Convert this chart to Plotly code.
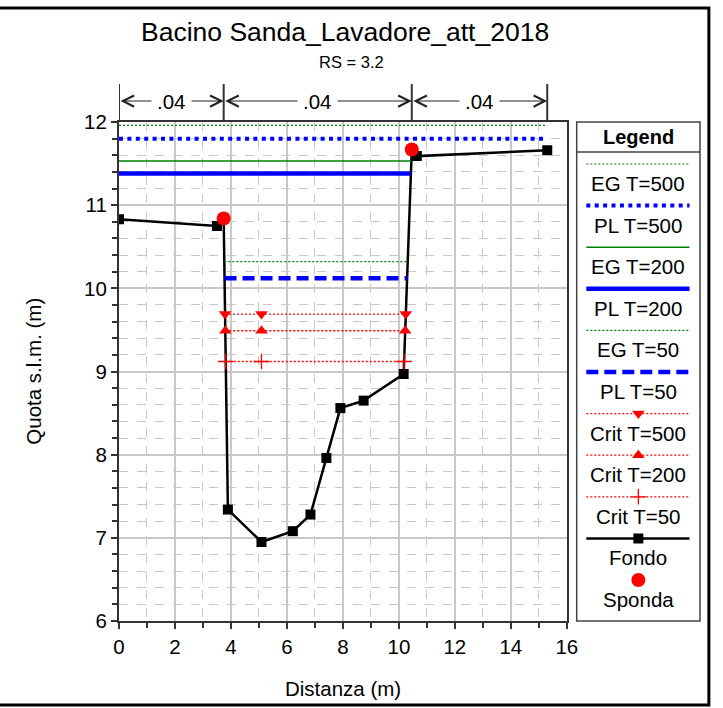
import numpy as np
import plotly.graph_objects as go

# ---- Cross-section ground profile (station, elevation) ----
fondo_x = [0.0, 3.50, 3.74, 3.89, 5.09, 6.21, 6.84, 7.41, 7.91, 8.74, 10.17, 10.46, 10.64, 15.30]
fondo_y = [10.83, 10.75, 10.84, 7.34, 6.95, 7.08, 7.28, 7.96, 8.56, 8.65, 8.97, 11.67, 11.59, 11.66]

# bank stations
sponda_x = [3.74, 10.46]
sponda_y = [10.84, 11.67]

# Manning n regions
n_bounds = [0.0, 3.74, 10.46, 15.30]
n_labels = [".04", ".04", ".04"]

# water levels per return period
eg_levels = {"T=500": 11.96, "T=200": 11.53, "T=50": 10.32}
pl_levels = {"T=500": 11.80, "T=200": 11.38, "T=50": 10.12}
crit_levels = {"T=500": 9.69, "T=200": 9.49, "T=50": 9.12}

FONT = "Liberation Sans, Arial, sans-serif"
GREEN = "rgb(0,128,0)"
BLUE = "rgb(0,0,255)"
RED = "rgb(255,0,0)"

gx = np.array(fondo_x)
gy = np.array(fondo_y)
i_min = int(np.argmin(gy))


def wet_extent(level):
    """Left/right stations where a water level meets the ground around the thalweg."""
    xl = gx[0]
    for i in range(i_min - 1, -1, -1):
        if gy[i] >= level:
            xl = gx[i] + (gx[i + 1] - gx[i]) * (gy[i] - level) / (gy[i] - gy[i + 1])
            break
    xr = gx[-1]
    for i in range(i_min + 1, len(gx)):
        if gy[i] >= level:
            xr = gx[i - 1] + (gx[i] - gx[i - 1]) * (level - gy[i - 1]) / (gy[i] - gy[i - 1])
            break
    return xl, xr


fig = go.Figure()

# ground
fig.add_trace(go.Scatter(x=fondo_x, y=fondo_y, mode="lines+markers",
                         line=dict(color="black", width=2.5),
                         marker=dict(symbol="square", size=10, color="black"),
                         showlegend=False, hoverinfo="skip"))

styles = {
    "EG T=500": dict(color=GREEN, width=1.2, dash="2px,2px"),
    "PL T=500": dict(color=BLUE, width=4, dash="4px,4.4px"),
    "EG T=200": dict(color=GREEN, width=1.5),
    "PL T=200": dict(color=BLUE, width=4.5),
    "EG T=50": dict(color=GREEN, width=1.2, dash="2px,2px"),
    "PL T=50": dict(color=BLUE, width=4.5, dash="12px,6px"),
}
crit_line = dict(color=RED, width=1.3, dash="2px,2px")

for key, lev in [("EG T=500", eg_levels["T=500"]), ("PL T=500", pl_levels["T=500"]),
                 ("EG T=200", eg_levels["T=200"]), ("PL T=200", pl_levels["T=200"]),
                 ("EG T=50", eg_levels["T=50"]), ("PL T=50", pl_levels["T=50"])]:
    xl, xr = wet_extent(lev)
    fig.add_trace(go.Scatter(x=[xl, xr], y=[lev, lev], mode="lines",
                             line=styles[key], showlegend=False, hoverinfo="skip"))

crit_marker = {"T=500": "triangle-down", "T=200": "triangle-up", "T=50": "cross-thin"}


def crit_marker_style(sym):
    return dict(symbol=sym, size=11, color=RED,
                line=dict(color=RED, width=1.3 if sym == "cross-thin" else 0))


for key, lev in crit_levels.items():
    xl, xr = wet_extent(lev)
    fig.add_trace(go.Scatter(
        x=[xl, gx[i_min], xr], y=[lev, lev, lev], mode="lines+markers",
        line=crit_line, marker=crit_marker_style(crit_marker[key]),
        showlegend=False, hoverinfo="skip"))

fig.add_trace(go.Scatter(x=sponda_x, y=sponda_y, mode="markers",
                         marker=dict(symbol="circle", size=14, color=RED),
                         showlegend=False, hoverinfo="skip"))

# ---- legend panel drawn on its own axes ----
legend_items = [
    ("EG T=500", styles["EG T=500"], None),
    ("PL T=500", styles["PL T=500"], None),
    ("EG T=200", styles["EG T=200"], None),
    ("PL T=200", styles["PL T=200"], None),
    ("EG T=50", styles["EG T=50"], None),
    ("PL T=50", styles["PL T=50"], None),
    ("Crit T=500", crit_line, "triangle-down"),
    ("Crit T=200", crit_line, "triangle-up"),
    ("Crit T=50", crit_line, "cross-thin"),
    ("Fondo", dict(color="black", width=2.5), "square"),
    ("Sponda", None, "circle"),
]
row0, row_step = 42.0, 41.6
annotations = []
for k, (name, ln, sym) in enumerate(legend_items):
    ys = row0 + k * row_step
    if ln is not None:
        fig.add_trace(go.Scatter(x=[0.078, 0.915], y=[ys, ys], mode="lines", line=ln,
                                 xaxis="x2", yaxis="y2", showlegend=False, hoverinfo="skip"))
    if sym is not None:
        if name == "Fondo":
            mk = dict(symbol="square", size=10, color="black")
        elif name == "Sponda":
            mk = dict(symbol="circle", size=14, color=RED)
        else:
            mk = crit_marker_style(sym)
        fig.add_trace(go.Scatter(x=[0.5], y=[ys], mode="markers", xaxis="x2", yaxis="y2",
                                 marker=mk, showlegend=False, hoverinfo="skip"))
    annotations.append(dict(x=0.5, y=ys + 19.5, xref="x2", yref="y2", text=name,
                            showarrow=False, font=dict(family=FONT, size=20.5, color="black"),
                            xanchor="center", yanchor="middle"))

annotations.append(dict(x=0.5, y=15, xref="x2", yref="y2", text="<b>Legend</b>",
                        showarrow=False, font=dict(family=FONT, size=20, color="black"),
                        xanchor="center", yanchor="middle"))

# ---- Manning n header above the plot ----
shapes = []
for b in n_bounds:
    shapes.append(dict(type="line", xref="x", yref="paper", x0=b, x1=b, y0=1.0, y1=1.076,
                       line=dict(color="#333333", width=2)))
for a, b, lab in zip(n_bounds[:-1], n_bounds[1:], n_labels):
    annotations.append(dict(x=b, y=1.042, xref="x", yref="paper", ax=a, ay=0,
                            axref="x", ayref="pixel", text="", showarrow=True,
                            arrowside="end+start", arrowhead=5, startarrowhead=5,
                            arrowsize=2.0, startarrowsize=2.0, arrowwidth=1.1,
                            arrowcolor="#222222"))
    annotations.append(dict(x=(a + b) / 2, y=1.042, xref="x", yref="paper", text=lab,
                            showarrow=False, bgcolor="white", borderpad=5,
                            font=dict(family=FONT, size=20.5, color="black"),
                            xanchor="center", yanchor="middle"))

# titles
annotations += [
    dict(x=(348 - 119) / 589, y=(621 - 32) / 499, xref="paper", yref="paper",
         text="Bacino Sanda_Lavadore_att_2018", showarrow=False,
         font=dict(family=FONT, size=26.5, color="black"), xanchor="center", yanchor="middle"),
    dict(x=(355 - 119) / 589, y=(621 - 62) / 499, xref="paper", yref="paper",
         text="RS = 3.2", showarrow=False,
         font=dict(family=FONT, size=16.5, color="black"), xanchor="center", yanchor="middle"),
    dict(x=8, y=(621 - 688) / 499, xref="x", yref="paper", text="Distanza (m)",
         showarrow=False, font=dict(family=FONT, size=20.5, color="black"),
         xanchor="center", yanchor="middle"),
    dict(x=(32 - 119) / 589, y=0.5, xref="paper", yref="paper", text="Quota s.l.m. (m)",
         showarrow=False, textangle=-90, font=dict(family=FONT, size=20.5, color="black"),
         xanchor="center", yanchor="middle"),
]

# legend box and header divider
shapes += [
    dict(type="rect", xref="x2 domain", yref="y2 domain", x0=0, x1=1, y0=0, y1=1,
         line=dict(color="#444444", width=1.5)),
    dict(type="line", xref="x2 domain", yref="y2", x0=0, x1=1, y0=30, y1=30,
         line=dict(color="#444444", width=1.5)),
    # outer frame
    dict(type="rect", xref="paper", yref="paper", x0=-0.25, x1=(717 - 119) / 589,
         y0=(621 - 705) / 499, y1=(621 - 8) / 499, line=dict(color="black", width=3)),
]

grid_c = "#c8c8c8"
axis_common = dict(showline=True, linecolor="#333333", linewidth=2, mirror=True,
                   ticks="outside", ticklen=6, tickwidth=1.5, tickcolor="#333333",
                   showgrid=True, gridcolor=grid_c, gridwidth=1.5, zeroline=False,
                   tickfont=dict(family=FONT, size=20.5, color="black"))

fig.update_layout(
    width=723, height=708,
    margin=dict(l=119, r=15, t=122, b=87),
    paper_bgcolor="white", plot_bgcolor="white",
    showlegend=False,
    xaxis=dict(range=[0, 16], dtick=2, domain=[0, 454 / 589],
               minor=dict(dtick=1, ticks="outside", ticklen=5, tickcolor="#333333",
                          showgrid=True, gridcolor=grid_c, griddash="dash", gridwidth=1),
               **axis_common),
    yaxis=dict(range=[6, 12], dtick=1,
               minor=dict(dtick=0.2, ticks="outside", ticklen=5, tickcolor="#333333",
                          showgrid=True, gridcolor=grid_c, griddash="dash", gridwidth=1),
               **axis_common),
    xaxis2=dict(domain=[(583 - 119) / 589, 1.0], range=[0, 1], visible=False,
                fixedrange=True),
    yaxis2=dict(domain=[0, 1], range=[499, 0], visible=False, fixedrange=True,
                anchor="x2"),
    shapes=shapes,
    annotations=annotations,
)

fig.write_html("out.html")
